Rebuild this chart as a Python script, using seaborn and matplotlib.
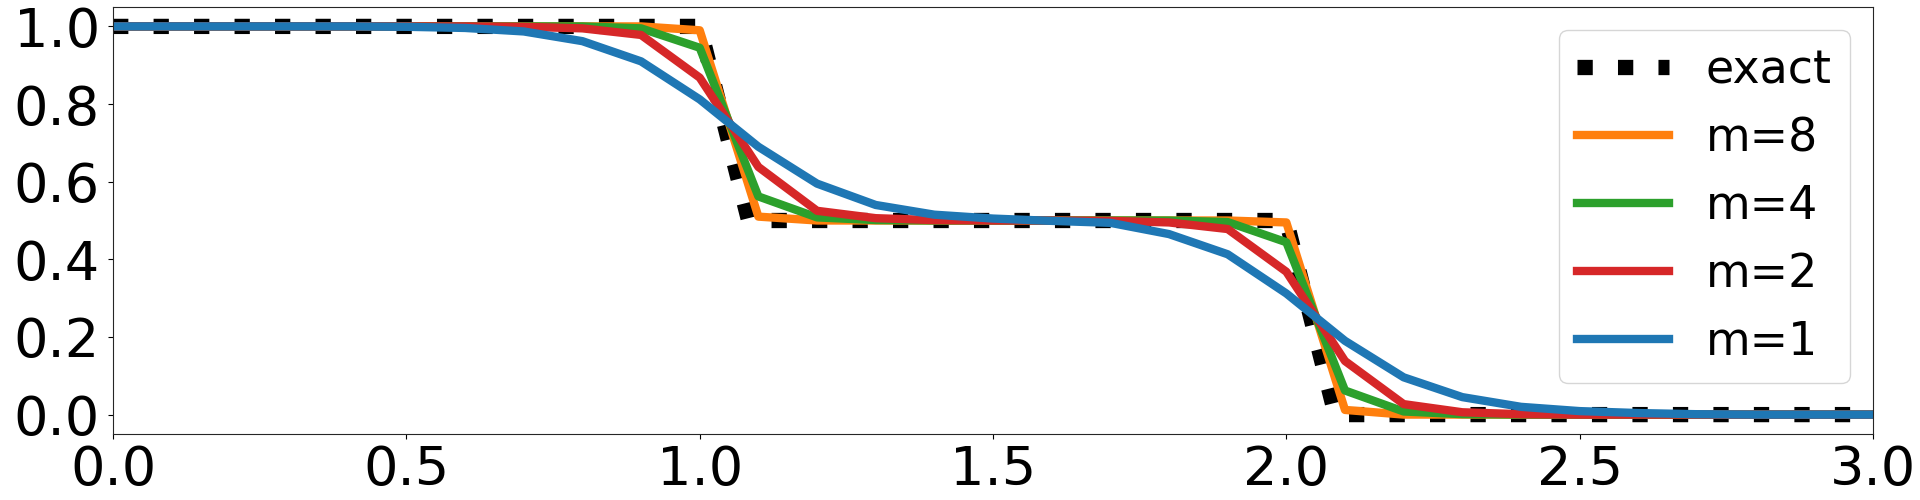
import numpy as np
import pandas as pd
import matplotlib
matplotlib.use("Agg")
import matplotlib.pyplot as plt
import seaborn as sns

# ---- data ----
x_grid = [round(0.1 * i, 1) for i in range(31)]
exact_x = list(np.linspace(0, 3, 37))
exact_y = [1.0] * 13 + [0.5] * 12 + [0.0] * 12

m8 = [1.0] * 10 + [0.99, 0.51] + [0.5] * 8 + [0.495, 0.012] + [0.0] * 9
m4 = [1.0] * 9 + [0.995, 0.945, 0.562, 0.508, 0.501] + [0.5] * 5 + \
     [0.496, 0.444, 0.062, 0.008, 0.001] + [0.0] * 7
m2 = [1.0] * 7 + [0.999, 0.995, 0.978, 0.868, 0.638, 0.525, 0.506, 0.501,
                  0.5, 0.5, 0.499, 0.495, 0.478, 0.368, 0.138, 0.027, 0.006,
                  0.001] + [0.0] * 6
m1 = [1.0] * 5 + [0.999, 0.996, 0.987, 0.962, 0.91, 0.812, 0.69, 0.595, 0.54,
                  0.515, 0.505, 0.499, 0.494, 0.465, 0.413, 0.312, 0.19, 0.096,
                  0.045, 0.02, 0.009, 0.004, 0.001] + [0.0] * 3

series = [("m=8", m8, "#ff7f0e"), ("m=4", m4, "#2ca02c"),
          ("m=2", m2, "#d62728"), ("m=1", m1, "#1f77b4")]

# ---- plot ----
fig = plt.figure(figsize=(19.2, 5), dpi=100)
ax = fig.add_axes([0.0589, 0.132, 0.9166, 0.854])

sns.lineplot(x=exact_x, y=exact_y, ax=ax, color="black",
             linewidth=11, label="exact")
ax.lines[-1].set_linestyle(":")
for name, vals, col in series:
    sns.lineplot(x=x_grid, y=vals, ax=ax, color=col, linewidth=6, label=name)

ax.set_xlim(0, 3)
ax.set_ylim(-0.05, 1.05)
ax.set_xticks([0, 0.5, 1.0, 1.5, 2.0, 2.5, 3.0])
ax.set_yticks([0, 0.2, 0.4, 0.6, 0.8, 1.0])
ax.tick_params(labelsize=39)
ax.tick_params(axis="y", pad=6)
for sp in ax.spines.values():
    sp.set_color("#262626")
ax.set_xlabel("")
ax.set_ylabel("")
ax.legend(loc="upper right", fontsize=33)

fig.savefig("out.png", dpi=100)
